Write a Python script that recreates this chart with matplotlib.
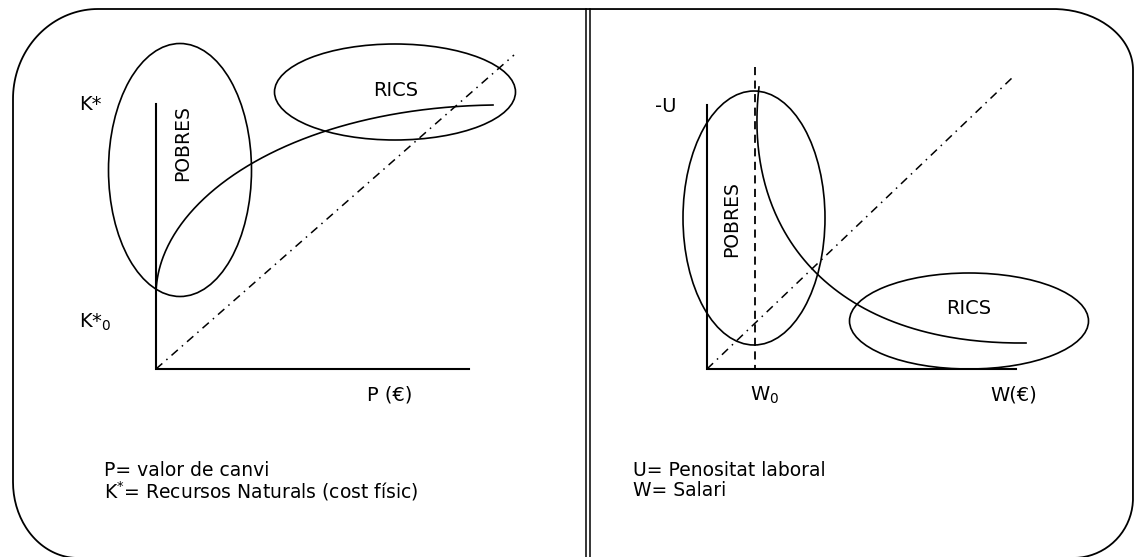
import numpy as np
import matplotlib.pyplot as plt
from matplotlib.patches import Ellipse
from matplotlib.path import Path
from matplotlib.patches import PathPatch

# diagram geometry, in pixels of the original picture (y grows downwards)
frame_box = [13, 1133, 9, 558]            # left, right, top, bottom
frame_corners = [(85, 90), (80, 61), (60, 60), (65, 76)]  # tl, tr, br, bl (rx, ry)
divider_x = [586, 590]

# left panel: K* against P
left_origin = (156, 369)
left_yaxis_top = 104
left_xaxis_end = 469
left_diag_end = (514, 55)
left_curve = [(156, 295), (156, 200), (290, 108), (493, 105)]
left_pobres = (180, 170, 143, 253)        # cx, cy, w, h
left_rics = (395, 92, 241, 96)

# right panel: -U against W
right_origin = (707, 369)
right_yaxis_top = 105
right_xaxis_end = 1016
right_diag_end = (1013, 77)
right_w0 = 755
right_w0_top = 67
right_curve = [(759, 87), (742, 230), (830, 345), (1026, 343)]
right_pobres = (754, 218, 142, 254)
right_rics = (969, 321, 239, 96)

notes_left = ["P= valor de canvi", r"K$^{*}$= Recursos Naturals (cost físic)"]
notes_right = ["U= Penositat laboral", "W= Salari"]

plt.rcParams['font.family'] = ['DejaVu Sans']
plt.rcParams['mathtext.default'] = 'regular'

fig = plt.figure(figsize=(11.34, 5.57), dpi=100)
ax = fig.add_axes([0, 0, 1, 1])
ax.set_xlim(0, 1134)
ax.set_ylim(557, 0)
ax.axis('off')


def bezier(pts, n=200):
    p = np.array(pts, dtype=float)
    t = np.linspace(0, 1, n)[:, None]
    return ((1 - t) ** 3 * p[0] + 3 * (1 - t) ** 2 * t * p[1]
            + 3 * (1 - t) * t ** 2 * p[2] + t ** 3 * p[3])


# rounded frame with elliptic corners
l, r, t, b = frame_box
(tlx, tly), (trx, try_), (brx, bry), (blx, bly) = frame_corners
a = np.linspace(0, np.pi / 2, 40)
pts = []
pts += list(zip(l + tlx - tlx * np.cos(a), t + tly - tly * np.sin(a)))
pts += list(zip(r - trx + trx * np.sin(a), t + try_ - try_ * np.cos(a)))
pts += list(zip(r - brx + brx * np.cos(a), b - bry + bry * np.sin(a)))
pts += list(zip(l + blx - blx * np.sin(a), b - bly + bly * np.cos(a)))
pts.append(pts[0])
ax.add_patch(PathPatch(Path(pts), fill=False, lw=1.3, color='black'))

for x in divider_x:
    ax.plot([x, x], [t, b], color='black', lw=1.1)

dashdot = (0, (5.5, 3.5, 1, 3.5))


def panel(origin, ytop, xend, diag_end, curve, pobres, rics):
    ox, oy = origin
    ax.plot([ox, ox, xend], [ytop, oy, oy], color='black', lw=1.5,
            solid_joinstyle='miter')
    ax.plot([ox, diag_end[0]], [oy, diag_end[1]], color='black', lw=1.1,
            linestyle=dashdot)
    c = bezier(curve)
    ax.plot(c[:, 0], c[:, 1], color='black', lw=1.2)
    for cx, cy, w, h in (pobres, rics):
        ax.add_patch(Ellipse((cx, cy), w, h, fill=False, lw=1.2,
                             color='black'))


panel(left_origin, left_yaxis_top, left_xaxis_end, left_diag_end,
      left_curve, left_pobres, left_rics)
panel(right_origin, right_yaxis_top, right_xaxis_end, right_diag_end,
      right_curve, right_pobres, right_rics)

ax.plot([right_w0, right_w0], [right_w0_top, right_origin[1]], color='black',
        lw=1.3, linestyle=(0, (4.5, 3)))

fs = 14
ax.text(79, 105, "K*", fontsize=fs, va='center', ha='left')
ax.text(79, 322, r"K*$_{0}$", fontsize=fs, va='center', ha='left')
ax.text(367, 395, "P (€)", fontsize=fs, va='center', ha='left')
ax.text(183, 143, "POBRES", fontsize=13.5, va='center', ha='center',
        rotation=90)
ax.text(396, 91, "RICS", fontsize=fs, va='center', ha='center')

ax.text(655, 106, "-U", fontsize=fs, va='center', ha='left')
ax.text(750, 395, r"W$_{0}$", fontsize=fs, va='center', ha='left')
ax.text(990, 395, "W(€)", fontsize=fs, va='center', ha='left')
ax.text(732, 219, "POBRES", fontsize=13.5, va='center', ha='center',
        rotation=90)
ax.text(969, 308, "RICS", fontsize=fs, va='center', ha='center')

fs2 = 13.5
for i, s in enumerate(notes_left):
    ax.text(104, 470 + 21 * i, s, fontsize=fs2, va='center', ha='left')
for i, s in enumerate(notes_right):
    ax.text(633, 470 + 21 * i, s, fontsize=fs2, va='center', ha='left')

fig.savefig("out.png", dpi=100)
